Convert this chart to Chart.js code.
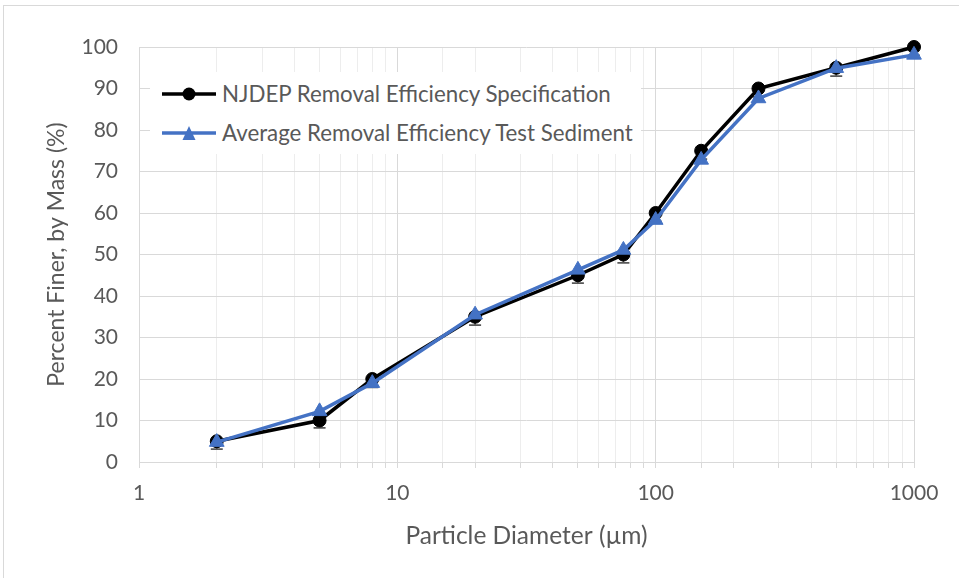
<!DOCTYPE html>
<html><head><meta charset="utf-8">
<script src="https://cdn.jsdelivr.net/npm/chart.js@4"></script>
<style>
html,body{margin:0;padding:0;background:#fff;overflow:hidden}
#wrap{position:relative;width:959px;height:578px;overflow:hidden}
#frame{position:absolute;left:3px;top:5px;width:980px;height:600px;border:1px solid #d9d9d9;box-sizing:border-box}
#chart{position:absolute;left:0;top:0}
#legend{position:absolute;left:150px;top:72px;background:#fff;padding:2px 8px 2px 12px;font-family:Lato,"Open Sans",sans-serif;font-size:22.3px;color:#595959}
#legend .row{display:flex;align-items:center;height:39px;white-space:nowrap}
#legend svg{margin-right:6px;flex:none}
</style></head>
<body>
<div id="wrap">
<div id="frame"></div>
<canvas id="chart" width="959" height="578"></canvas>
<div id="legend"></div>
</div>
<script>
const particleDiameters = [2, 5, 8, 20, 50, 75, 100, 150, 250, 500, 1000];
const njdepSpec = [5, 10, 20, 35, 45, 50, 60, 75, 90, 95, 100];
const testSediment = [4.8, 12.2, 19, 35.5, 46.3, 51.1, 58.3, 72.8, 87.6, 94.9, 98.1];
const specErrorMinus = [1.9, 1.8, 2, 2, 1.9, 2, 2, 2, 2, 2, 2];
const xTickLabels = ['1', '10', '100', '1000'];
const yTickValues = [0, 10, 20, 30, 40, 50, 60, 70, 80, 90, 100];
const seriesNames = ['NJDEP Removal Efficiency Specification', 'Average Removal Efficiency Test Sediment'];
const seriesColors = ['#000000', '#4472C4'];
const xTitle = 'Particle Diameter (\u00b5m)';
const yTitle = 'Percent Finer, by Mass (%)';

const FONT = 'Lato, "Open Sans", sans-serif';
const TXT = '#595959';

function isMajor(v) {
  const l = Math.log10(v);
  return Math.abs(l - Math.round(l)) < 1e-9;
}

const errorBars = {
  id: 'errorBars',
  beforeDatasetsDraw(chart) {
    const ctx = chart.ctx, xs = chart.scales.x, ys = chart.scales.y;
    ctx.save();
    ctx.strokeStyle = '#595959';
    ctx.lineWidth = 1.8;
    particleDiameters.forEach((d, i) => {
      const px = xs.getPixelForValue(d);
      const y0 = ys.getPixelForValue(njdepSpec[i]);
      const y1 = ys.getPixelForValue(njdepSpec[i] - specErrorMinus[i]);
      ctx.beginPath();
      ctx.moveTo(px, y0); ctx.lineTo(px, y1);
      ctx.moveTo(px - 6, y1); ctx.lineTo(px + 6, y1);
      ctx.stroke();
    });
    ctx.restore();
  }
};

const chart = new Chart(document.getElementById('chart'), {
  type: 'line',
  data: {
    datasets: [
      {
        label: seriesNames[0],
        data: particleDiameters.map((d, i) => ({x: d, y: njdepSpec[i]})),
        borderColor: seriesColors[0], backgroundColor: seriesColors[0],
        borderWidth: 3.5, pointStyle: 'circle', pointRadius: 6.5,
        pointBorderWidth: 1, order: 2, clip: false
      },
      {
        label: seriesNames[1],
        data: particleDiameters.map((d, i) => ({x: d, y: testSediment[i]})),
        borderColor: seriesColors[1], backgroundColor: seriesColors[1],
        borderWidth: 3.5, pointStyle: 'triangle', pointRadius: 8.5,
        pointBorderWidth: 1, order: 1, clip: false
      }
    ]
  },
  options: {
    responsive: false, animation: false,
    layout: {padding: {top: 47, right: 45, left: 0, bottom: 0}},
    plugins: {legend: {display: false}, tooltip: {enabled: false}},
    scales: {
      x: {
        type: 'logarithmic', min: 1, max: 1000,
        afterFit(s) { s.height = 116; },
        grid: {
          color: c => isMajor(c.tick.value) ? '#d9d9d9' : '#ededed',
          tickColor: '#d9d9d9', tickLength: 6, lineWidth: 1
        },
        border: {color: '#d9d9d9', width: 1},
        ticks: {
          autoSkip: false, maxRotation: 0, padding: 13, color: TXT,
          font: {family: FONT, size: 21},
          callback: v => isMajor(v) ? xTickLabels[Math.round(Math.log10(v))] : ''
        },
        title: {display: true, text: xTitle, color: TXT, font: {family: FONT, size: 24.5}, padding: {top: 0, bottom: 27}}
      },
      y: {
        min: 0, max: 100,
        afterFit(s) { s.width = 139; },
        afterBuildTicks(s) { s.ticks = yTickValues.map(v => ({value: v})); },
        grid: {color: '#d9d9d9', drawTicks: false, lineWidth: 1},
        border: {display: false},
        ticks: {padding: 21, color: TXT, font: {family: FONT, size: 21}},
        title: {display: true, text: yTitle, color: TXT, font: {family: FONT, size: 23}, padding: {top: 43, bottom: 0}}
      }
    }
  },
  plugins: [errorBars]
});

// HTML legend built from the chart datasets
const leg = document.getElementById('legend');
chart.data.datasets.forEach(ds => {
  const row = document.createElement('div');
  row.className = 'row';
  const marker = ds.pointStyle === 'circle'
    ? `<circle cx="27" cy="10" r="6.5" fill="${ds.borderColor}"/>`
    : `<polygon points="27,3 33.5,17 20.5,17" fill="${ds.borderColor}"/>`;
  row.innerHTML = `<svg width="54" height="20"><line x1="0" y1="10" x2="54" y2="10" stroke="${ds.borderColor}" stroke-width="3.5"/>${marker}</svg><span>${ds.label}</span>`;
  leg.appendChild(row);
});
</script>
</body></html>
